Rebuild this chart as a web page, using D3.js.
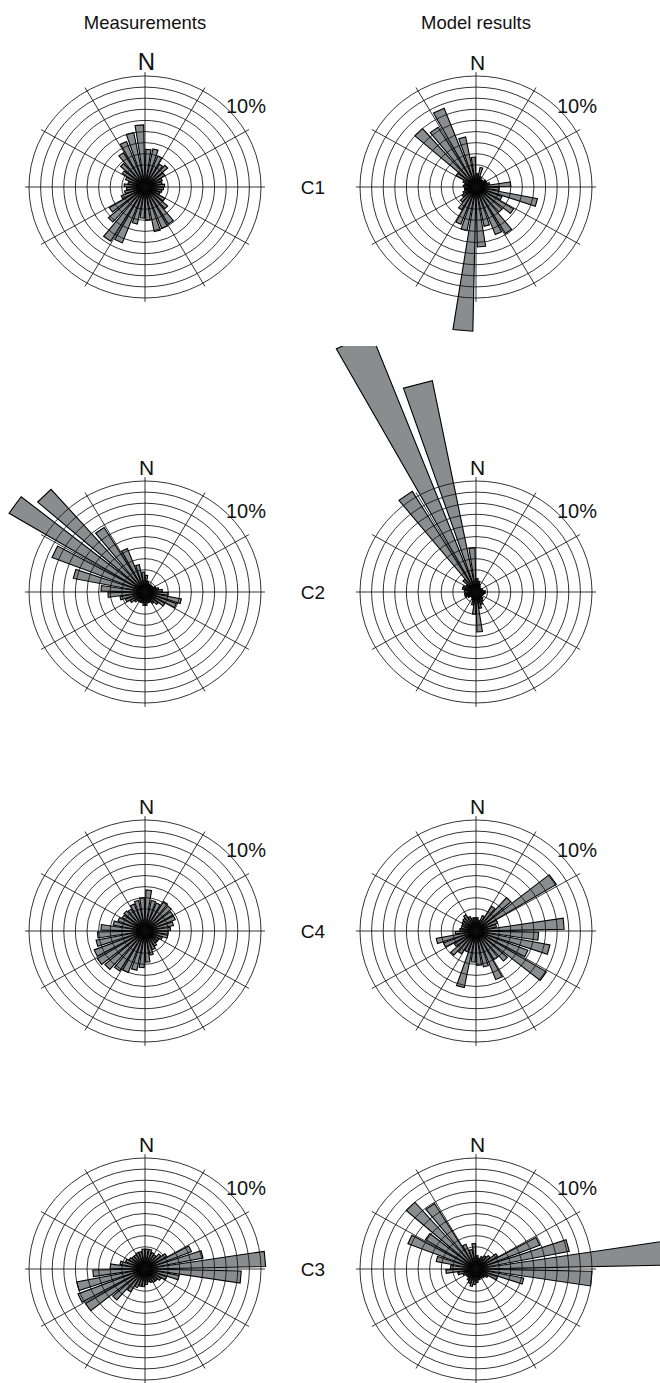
<!DOCTYPE html>
<html>
<head>
<meta charset="utf-8">
<script src="https://cdn.jsdelivr.net/npm/d3@7"></script>
<style>
  body { margin: 0; background: #fff; }
  text { font-family: "Liberation Sans", Arial, Helvetica, sans-serif; fill: #111; }
</style>
</head>
<body>
<div id="viz-container"></div>
<script>
let w = 660;
let h = 1383;

// direction bins, 10 degrees each (start of bin, clockwise from N)
let bins = d3.range(0, 360, 10);
let ringTicks = d3.range(1, 11);       // rings at 1% .. 10%
let spokes = d3.range(0, 360, 30);

let columnTitles = ["Measurements", "Model results"];
let stations = ["C1", "C2", "C4", "C3"];

// frequency (%) per bin
let c1Meas  = [3.4, 3.5, 3.0, 2.4, 2.6, 2.0, 1.6, 1.5, 1.7, 1.6, 1.5, 1.4, 2.0, 2.6, 3.9, 4.0, 4.1, 3.0,
               2.8, 3.4, 5.4, 5.7, 4.2, 3.6, 2.2, 1.8, 1.6, 1.8, 1.5, 1.8, 2.3, 2.8, 3.6, 4.4, 5.0, 5.6];
let c1Model = [1.2, 1.8, 1.0, 0.8, 0.8, 1.0, 1.0, 1.2, 3.0, 2.0, 5.4, 2.4, 3.8, 3.0, 4.9, 4.6, 3.6, 5.4,
               13.0, 4.0, 3.6, 2.4, 1.8, 1.4, 1.2, 1.0, 1.0, 1.1, 1.0, 1.2, 2.0, 7.0, 6.3, 7.6, 4.6, 2.7];
let c2Meas  = [1.5, 1.0, 0.8, 0.8, 0.8, 0.8, 1.0, 1.2, 1.5, 2.0, 3.2, 2.9, 2.0, 1.5, 1.2, 1.0, 1.0, 1.2,
               1.2, 1.0, 1.0, 1.0, 1.2, 1.5, 1.8, 2.2, 3.2, 3.8, 6.3, 8.6, 13.7, 12.3, 6.8, 4.2, 2.5, 1.8];
let c2Model = [1.2, 1.0, 0.8, 0.6, 0.5, 0.5, 0.6, 0.6, 0.8, 0.8, 0.7, 0.6, 0.6, 0.8, 1.0, 1.2, 1.5, 3.6,
               2.0, 1.2, 0.8, 0.6, 0.6, 0.8, 1.0, 1.0, 1.0, 1.0, 1.2, 1.2, 1.0, 1.5, 10.6, 25.0, 19.4, 4.0];
let c4Meas  = [3.7, 2.8, 2.7, 3.1, 3.0, 2.8, 2.8, 2.5, 2.2, 2.0, 2.0, 1.6, 1.4, 1.4, 1.6, 1.8, 2.2, 2.8,
               3.3, 3.6, 4.0, 4.2, 4.6, 4.8, 4.7, 4.3, 4.1, 3.8, 2.8, 2.5, 2.3, 2.4, 2.3, 2.6, 2.8, 3.0];
let c4Model = [1.2, 1.0, 1.5, 2.6, 4.0, 8.1, 2.0, 1.8, 7.6, 5.4, 6.5, 4.8, 7.1, 3.6, 3.0, 4.7, 3.3, 3.1,
               2.8, 5.2, 2.0, 2.4, 2.9, 2.2, 3.0, 3.5, 1.8, 1.4, 1.3, 1.3, 1.4, 1.5, 1.7, 1.4, 1.2, 1.2];
let c3Meas  = [1.8, 1.8, 1.6, 1.5, 1.8, 2.2, 4.3, 5.1, 10.4, 8.3, 3.0, 2.0, 1.6, 1.4, 1.4, 1.3, 1.2, 1.4,
               1.6, 1.6, 1.8, 2.4, 3.7, 6.0, 6.2, 6.0, 4.5, 3.0, 2.2, 1.8, 1.6, 1.5, 1.5, 1.6, 1.6, 1.8];
let c3Model = [1.2, 1.0, 1.2, 1.4, 1.6, 2.2, 5.9, 8.2, 17.0, 10.0, 4.2, 2.0, 1.2, 1.0, 0.9, 0.9, 1.0, 1.2,
               1.4, 1.6, 1.4, 1.2, 1.0, 1.0, 1.2, 1.6, 2.6, 2.2, 3.5, 6.3, 5.1, 8.0, 6.9, 2.4, 1.8, 2.3];

let measured = [c1Meas, c2Meas, c4Meas, c3Meas];
let modelled = [c1Model, c2Model, c4Model, c3Model];

// layout
let colX = [145, 476];
let rowY = [187, 592, 931, 1269];
let squash = 111 / 116;   // the rings are a little wider than tall

let r = d3.scaleLinear().domain([0, 10]).range([0, 116]);
let rad = d3.scaleLinear().domain([0, 360]).range([0, 2 * Math.PI]);

let viz = d3.select("#viz-container")
  .append("svg")
    .attr("width", w)
    .attr("height", h)
    .style("background-color", "white");

viz.append("defs").append("clipPath")
    .attr("id", "panel-clip")
  .append("rect")
    .attr("x", -400)
    .attr("y", -246)
    .attr("width", 800)
    .attr("height", 800);

viz.selectAll(".coltitle").data(columnTitles).enter()
  .append("text")
    .attr("class", "coltitle")
    .attr("x", (d, i) => colX[i])
    .attr("y", 29)
    .attr("text-anchor", "middle")
    .style("font-size", "18.5px")
    .text(d => d);

let wedge = d3.line();

function barPath(value, bin) {
  let a1 = rad(bin + 1.2);
  let a2 = rad(bin + 8.8);
  let len = r(value);
  return wedge([[0, 0],
                [len * Math.sin(a1), -len * Math.cos(a1)],
                [len * Math.sin(a2), -len * Math.cos(a2)]]) + "Z";
}

function drawRose(cx, cy, values, bigN) {
  let outer = viz.append("g")
      .attr("transform", "translate(" + cx + "," + cy + ")")
      .attr("clip-path", "url(#panel-clip)");

  let g = outer.append("g")
      .attr("transform", "scale(1," + squash + ")");

  g.selectAll(".bar").data(values).enter()
    .append("path")
      .attr("class", "bar")
      .attr("d", (d, i) => barPath(d, bins[i]))
      .attr("fill", "#8b8c8e")
      .attr("stroke", "#000")
      .attr("stroke-width", 1.1)
      .attr("stroke-linejoin", "miter")
      .attr("vector-effect", "non-scaling-stroke");

  g.selectAll(".ring").data(ringTicks).enter()
    .append("circle")
      .attr("class", "ring")
      .attr("r", d => r(d))
      .attr("fill", "none")
      .attr("stroke", "#111")
      .attr("stroke-width", 0.85)
      .attr("vector-effect", "non-scaling-stroke");

  g.selectAll(".spoke").data(spokes).enter()
    .append("line")
      .attr("class", "spoke")
      .attr("x2", d => r(10.35) * Math.sin(rad(d)))
      .attr("y2", d => -r(10.35) * Math.cos(rad(d)))
      .attr("stroke", "#111")
      .attr("stroke-width", 0.85)
      .attr("vector-effect", "non-scaling-stroke");

  viz.append("text")
    .attr("x", cx + 1.5)
    .attr("y", cy - 117)
    .attr("text-anchor", "middle")
    .style("font-size", bigN ? "24px" : "21px")
    .text("N");

  viz.append("text")
    .attr("x", cx + 81)
    .attr("y", cy - 74)
    .style("font-size", "20px")
    .text("10%");
}

stations.forEach(function(name, i) {
  drawRose(colX[0], rowY[i], measured[i], i == 0);
  drawRose(colX[1], rowY[i], modelled[i], false);

  viz.append("text")
    .attr("x", 313)
    .attr("y", rowY[i] + 7)
    .attr("text-anchor", "middle")
    .style("font-size", "19px")
    .text(name);
});
</script>
</body>
</html>
